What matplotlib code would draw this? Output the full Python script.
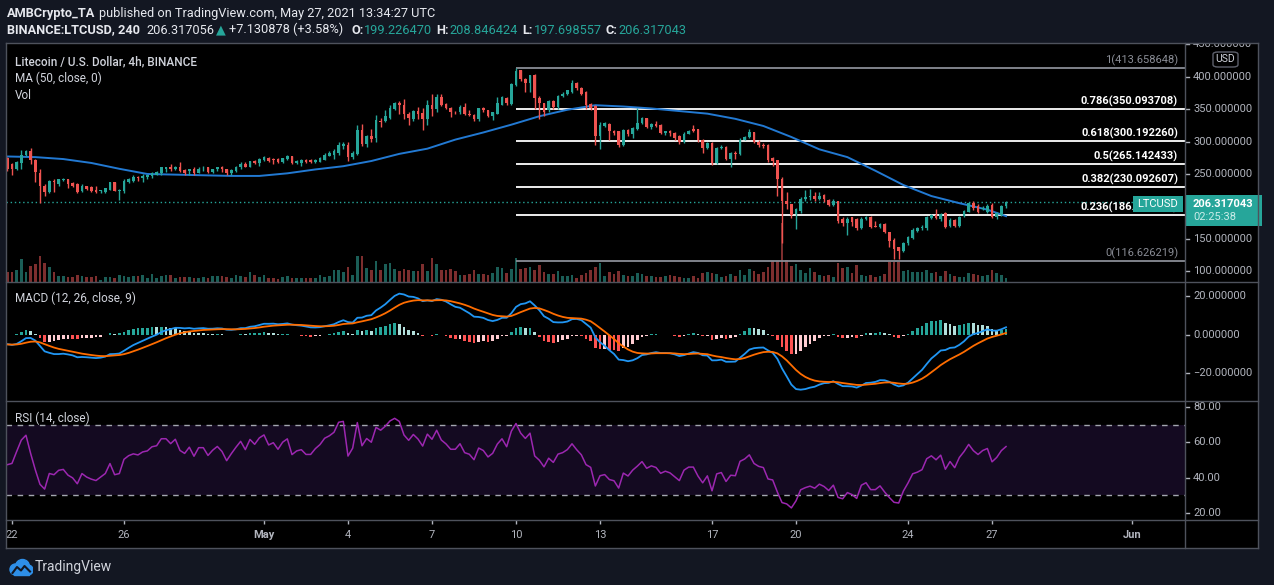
import numpy as np
import matplotlib
matplotlib.use('Agg')
import matplotlib.pyplot as plt
from matplotlib.patches import Rectangle, Circle, FancyBboxPatch
from matplotlib.lines import Line2D
from matplotlib.text import Annotation

plt.rcParams['font.family'] = ['Roboto', 'DejaVu Sans']

# ---- LTCUSD 4h candles, Apr 21 20:00 -> May 27 12:00 ----
opens = [275, 265, 257, 267, 280, 286, 272, 252, 232, 222,
         239, 234, 241, 242, 236, 234, 223, 231, 230, 226,
         224, 222, 226, 237, 224, 223, 237, 239, 246, 244,
         245, 247, 249, 252, 257, 260, 257, 261, 256, 254,
         258, 252, 257, 260, 253, 257, 260, 257, 251, 254,
         260, 266, 261, 270, 267, 271, 275, 273, 273, 268,
         273, 277, 267, 267, 272, 272, 268, 269, 272, 278,
         280, 282, 293, 295, 276, 281, 318, 296, 308, 305,
         332, 331, 337, 350, 359, 357, 342, 335, 347, 344,
         334, 356, 350, 369, 358, 352, 346, 345, 354, 343,
         341, 334, 351, 348, 340, 343, 357, 367, 358, 387,
         410, 397, 390, 402, 367, 359, 349, 362, 354, 370,
         373, 377, 391, 382, 377, 358, 355, 309, 324, 327,
         317, 316, 295, 318, 311, 319, 328, 336, 323, 327,
         326, 313, 316, 313, 308, 299, 312, 319, 319, 302,
         290, 298, 267, 290, 292, 273, 282, 281, 303, 307,
         314, 300, 295, 295, 274, 271, 243, 208, 203, 188,
         193, 211, 214, 216, 212, 217, 210, 202, 208, 181,
         174, 183, 180, 166, 181, 184, 170, 169, 173, 160,
         149, 137, 132, 143, 152, 162, 166, 166, 182, 187,
         181, 190, 170, 179, 170, 185, 192, 205, 200, 196,
         192, 202, 184, 187, 200]
closes = [257, 258, 268, 280, 286, 271, 253, 231, 222, 239,
          237, 242, 243, 235, 231, 222, 232, 227, 224, 222,
          225, 228, 237, 224, 225, 239, 243, 245, 244, 247,
          248, 252, 253, 260, 260, 257, 261, 254, 252, 257,
          251, 258, 258, 253, 257, 260, 257, 251, 256, 261,
          266, 261, 270, 267, 273, 276, 270, 272, 268, 274,
          277, 267, 270, 271, 268, 268, 272, 275, 280, 282,
          285, 295, 296, 276, 283, 318, 296, 308, 304, 333,
          330, 339, 352, 359, 356, 342, 336, 347, 342, 334,
          356, 350, 369, 357, 352, 345, 345, 354, 343, 341,
          334, 351, 348, 340, 345, 359, 368, 359, 389, 409,
          397, 390, 402, 367, 359, 346, 362, 354, 370, 373,
          379, 391, 382, 374, 357, 352, 309, 326, 328, 316,
          313, 294, 318, 311, 321, 328, 336, 323, 327, 324,
          313, 316, 313, 306, 299, 312, 316, 316, 302, 290,
          298, 267, 290, 292, 273, 282, 281, 303, 307, 314,
          300, 295, 293, 272, 270, 242, 208, 203, 187, 196,
          211, 214, 216, 211, 216, 211, 202, 208, 178, 174,
          181, 176, 166, 181, 184, 169, 169, 173, 160, 147,
          134, 132, 144, 153, 164, 166, 169, 183, 187, 182,
          188, 169, 179, 170, 184, 193, 205, 197, 192, 198,
          201, 184, 190, 200, 206.317]
highs = [276, 267, 270, 287, 287, 290, 273, 258, 234, 241,
         242, 243, 244, 243, 237, 236, 234, 232, 231, 232,
         226, 229, 238, 238, 227, 242, 244, 248, 247, 250,
         249, 253, 254, 261, 261, 265, 263, 268, 258, 258,
         260, 260, 262, 261, 258, 261, 263, 258, 257, 262,
         268, 268, 270, 272, 275, 277, 276, 275, 274, 275,
         280, 278, 271, 273, 273, 273, 273, 276, 283, 285,
         289, 299, 299, 300, 285, 325, 327, 310, 320, 341,
         337, 349, 357, 361, 362, 366, 345, 349, 354, 351,
         364, 373, 374, 374, 360, 354, 347, 356, 360, 349,
         343, 352, 353, 349, 346, 369, 370, 369, 391, 414,
         411, 398, 403, 404, 370, 360, 364, 364, 372, 376,
         380, 395, 392, 384, 378, 360, 356, 330, 330, 328,
         318, 317, 319, 320, 322, 352, 338, 337, 329, 331,
         327, 317, 318, 315, 310, 315, 318, 325, 320, 304,
         300, 300, 292, 294, 293, 284, 285, 305, 309, 320,
         315, 303, 298, 296, 276, 272, 246, 222, 204, 198,
         214, 225, 227, 222, 222, 219, 211, 212, 209, 183,
         184, 184, 182, 183, 186, 185, 178, 174, 175, 161,
         151, 138, 145, 155, 166, 168, 172, 186, 189, 196,
         190, 191, 182, 181, 186, 195, 207, 208, 203, 200,
         204, 205, 192, 202, 208.8]
lows = [254, 249, 256, 258, 277, 265, 238, 205, 216, 220,
        222, 232, 239, 229, 230, 221, 222, 226, 222, 221,
        221, 221, 225, 223, 210, 221, 236, 238, 239, 237,
        242, 244, 248, 249, 253, 255, 256, 253, 248, 249,
        249, 251, 254, 252, 251, 254, 253, 249, 248, 253,
        258, 260, 260, 265, 263, 270, 269, 266, 267, 267,
        271, 266, 266, 263, 267, 267, 267, 268, 271, 277,
        273, 280, 288, 270, 273, 279, 293, 292, 300, 300,
        322, 330, 335, 348, 342, 335, 325, 332, 335, 318,
        325, 339, 346, 355, 350, 338, 343, 343, 341, 339,
        332, 332, 346, 338, 333, 342, 356, 357, 356, 386,
        394, 377, 377, 350, 334, 340, 345, 350, 350, 368,
        371, 375, 380, 372, 350, 348, 295, 288, 322, 303,
        310, 292, 293, 309, 306, 318, 327, 321, 320, 322,
        311, 310, 308, 303, 296, 297, 311, 314, 300, 283,
        288, 264, 266, 289, 271, 261, 273, 279, 302, 305,
        297, 292, 290, 268, 262, 216, 144, 196, 182, 165,
        190, 208, 210, 208, 210, 207, 200, 201, 175, 170,
        156, 170, 164, 165, 179, 166, 168, 167, 159, 137,
        119, 119, 130, 141, 150, 160, 163, 164, 180, 180,
        178, 166, 168, 168, 169, 184, 191, 195, 190, 194,
        190, 182, 181, 186, 197.7]
# volume, relative units (bar height in the price pane)
volumes = [10, 10, 12, 23, 10, 16, 18, 26, 19, 15,
           10, 6, 6, 5, 5, 7, 6, 5, 5, 6,
           2, 5, 5, 4, 7, 6, 5, 6, 6, 7,
           4, 8, 4, 6, 7, 7, 4, 5, 5, 5,
           4, 4, 5, 4, 6, 6, 6, 5, 4, 7,
           6, 5, 10, 7, 5, 7, 4, 4, 3, 5,
           6, 4, 4, 4, 4, 4, 4, 7, 5, 6,
           12, 12, 10, 15, 7, 26, 26, 14, 12, 21,
           12, 18, 19, 13, 11, 13, 12, 11, 11, 18,
           11, 24, 18, 12, 12, 13, 11, 7, 7, 8,
           12, 8, 8, 7, 9, 15, 14, 9, 13, 24,
           13, 14, 15, 12, 17, 10, 8, 8, 11, 6,
           6, 7, 4, 7, 9, 12, 15, 19, 6, 10,
           8, 11, 7, 6, 6, 9, 8, 6, 6, 5,
           5, 6, 7, 6, 5, 4, 4, 6, 4, 9,
           10, 9, 8, 5, 6, 8, 6, 12, 7, 13,
           11, 8, 10, 15, 21, 21, 59, 22, 16, 18,
           12, 9, 14, 10, 7, 6, 7, 5, 19, 14,
           15, 9, 17, 7, 6, 7, 5, 6, 8, 20,
           20, 20, 11, 12, 10, 10, 10, 12, 9, 10,
           6, 11, 8, 6, 5, 5, 9, 8, 7, 6,
           7, 12, 9, 7, 4]

# MA(50) read once per day (candle index, value)
ma_idx = [0, 6, 12, 18, 24, 30, 36, 42, 48, 54, 60, 66, 72, 78, 84, 90, 96, 102, 108,
          114, 120, 126, 132, 138, 144, 150, 156, 162, 168, 174, 180, 186, 192, 198,
          204, 210, 214]
ma_val = [277, 276, 273, 267, 258, 250, 249, 248, 247, 247, 251, 257, 262, 270, 281, 289,
          303, 314, 326, 339, 349, 356, 354, 351, 347, 343, 335, 324, 307, 288, 276, 255,
          233, 216, 205, 195, 185]

# Fibonacci retracement drawn from the May 10 high (candle 109)
fib_start = 109
fib_ratios = ['1', '0.786', '0.618', '0.5', '0.382', '0.236', '0']
fib_levels = [413.658648, 350.093708, 300.192260, 265.142433, 230.092607, 186.725872, 116.626219]

# indicator state carried in from before the visible window
ema12_start, ema26_start, signal_start = 270.0, 274.0, -5.0
rsi_gain_start, rsi_loss_start = 2.6, 2.9

date_labels = ['22', '26', 'May', '4', '7', '10', '13', '17', '20', '24', '27', 'Jun']
date_days = [0, 4, 9, 12, 15, 18, 21, 25, 28, 32, 35, 40]   # days after Apr 22
price_ticks = [100, 150, 200, 250, 300, 350, 400, 450]
macd_ticks = [20, 0, -20]
rsi_ticks = [80, 60, 40, 20]
last_price = 206.317043

W, H = 1274, 585
BG = '#131722'
TEAL = '#26a69a'
RED = '#ef5350'
TXT = '#d1d4dc'
AXT = '#b2b5be'
LINE = '#4e525c'

fig = plt.figure(figsize=(W / 100, H / 100), dpi=100, facecolor=BG)


def pane(x0, y0, x1, y1, face='black'):
    ax = fig.add_axes([x0 / W, 1 - y1 / H, (x1 - x0) / W, (y1 - y0) / H])
    ax.set_facecolor(face)
    ax.set_xticks([])
    ax.set_yticks([])
    for s in ax.spines.values():
        s.set_visible(False)
    return ax


def kx(x):
    # pixel column -> candle index
    return (x - 7.3) / 4.667


XL = (kx(6), kx(1185))
k = np.arange(len(closes))
o = np.array(opens, float)
c = np.array(closes, float)
up = c >= o
cols = np.where(up, TEAL, RED)

# ---- price pane ----
ax_v = pane(6, 43, 1185, 282)
ax_v.bar(k, volumes, width=0.62, color=np.where(up, '#1b5e57', '#7d2e2e'), linewidth=0)
ax_v.set_xlim(XL)
ax_v.set_ylim(0, 239)

ax_p = pane(6, 43, 1185, 282, face='none')
ax_p.set_xlim(XL)
ax_p.set_ylim(83.5, 451.9)
ax_p.axhline(last_price, color=TEAL, lw=1, ls=(0, (1, 2)), zorder=1)
for r, lv in zip(fib_ratios, fib_levels):
    fc = '#8a8d96' if r in ('0', '1') else 'white'
    ax_p.hlines(lv, fib_start, XL[1], color=fc, lw=1.3, zorder=1)
    ax_p.annotate(f'{r}({lv:.6f})', xy=(kx(1178), lv), xytext=(0, 2), textcoords='offset pixels',
                  ha='right', va='bottom', color=fc, fontsize=8,
                  fontweight='normal' if r in ('0', '1') else 'bold')
ax_p.plot(ma_idx, ma_val, color='#2279d2', lw=1.4, zorder=2)
ax_p.vlines(k, lows, highs, colors=cols, lw=1, zorder=3)
ax_p.bar(k, np.maximum(np.abs(c - o), 0.8), bottom=np.minimum(o, c), width=0.62,
         color=cols, linewidth=0, zorder=4)


# ---- MACD pane ----
def ema(vals, start, n):
    a = 2 / (n + 1)
    out, e = [], start
    for v in vals:
        e = e + a * (v - e)
        out.append(e)
    return np.array(out)


macd = ema(c, ema12_start, 12) - ema(c, ema26_start, 26)
signal = ema(macd, signal_start, 9)
hist = macd - signal
prev = np.r_[hist[0], hist[:-1]]
hcol = np.where(hist >= 0, np.where(hist > prev, '#26a69a', '#b2dfdb'),
                np.where(hist > prev, '#ffcdd2', '#ff5252'))
ax_m = pane(6, 282, 1185, 401)
ax_m.set_xlim(XL)
ax_m.set_ylim(-34.3, 27.5)
ax_m.bar(k, hist, width=0.62, color=hcol, linewidth=0)
ax_m.plot(k, macd, color='#2196f3', lw=1.3)
ax_m.plot(k, signal, color='#ff6d00', lw=1.3)

# ---- RSI pane ----
gain, loss = rsi_gain_start, rsi_loss_start
rsi = [100 - 100 / (1 + gain / loss)]
for d in np.diff(c):
    gain = (gain * 13 + max(d, 0)) / 14
    loss = (loss * 13 + max(-d, 0)) / 14
    rsi.append(100 - 100 / (1 + gain / loss))
ax_r = pane(6, 401, 1185, 520)
ax_r.set_xlim(XL)
ax_r.set_ylim(15.9, 83.4)
ax_r.axhspan(30, 70, color='#140a21', lw=0)
for lv in (70, 30):
    ax_r.axhline(lv, color='#a3a6af', lw=1, ls=(0, (4, 4)))
ax_r.plot(k, rsi, color='#9c27b0', lw=1.1)

# ---- time axis ----
ax_t = pane(6, 520, 1185, 548)
ax_t.set_xlim(XL)
ax_t.set_ylim(0, 1)
for lab, d in zip(date_labels, date_days):
    kk = 1 + 6 * d
    ax_t.vlines(kk, 0.84, 1, color=AXT, lw=1)
    ax_t.text(kk, 0.45, lab, ha='center', va='center', color=AXT, fontsize=8,
              fontweight='bold' if lab in ('May', 'Jun') else 'normal')

# ---- right scales ----
sc_p = pane(1185, 43, 1258, 282)
sc_p.set_xlim(0, 1)
sc_p.set_ylim(ax_p.get_ylim())
for t in price_ticks:
    sc_p.plot([0, 0.06], [t, t], color=AXT, lw=1)
    sc_p.text(0.11, t, f'{t:.6f}', va='center', ha='left', color=AXT, fontsize=8, clip_on=True)
sc_m = pane(1185, 282, 1258, 401)
sc_m.set_xlim(0, 1)
sc_m.set_ylim(ax_m.get_ylim())
for t in macd_ticks:
    sc_m.plot([0, 0.06], [t, t], color=AXT, lw=1)
    sc_m.text(0.11, t, f'{t:.6f}'.replace('-', '\u2212'), va='center', ha='left', color=AXT,
              fontsize=8, clip_on=True)
sc_r = pane(1185, 401, 1258, 520)
sc_r.set_xlim(0, 1)
sc_r.set_ylim(ax_r.get_ylim())
for t in rsi_ticks:
    sc_r.plot([0, 0.06], [t, t], color=AXT, lw=1)
    sc_r.text(0.11, t, f'{t:.2f}', va='center', ha='left', color=AXT, fontsize=8, clip_on=True)
pane(1185, 520, 1258, 548)


# frame lines
def fline(x0, y0, x1, y1):
    fig.add_artist(Line2D([x0 / W, x1 / W], [1 - y0 / H, 1 - y1 / H], color=LINE, lw=1))


for y in (43, 282, 401, 520, 548):
    fline(6, y, 1258, y)
for x in (6, 1185, 1258):
    fline(x, 43, x, 548)

# USD badge
fig.add_artist(FancyBboxPatch((1213 / W, 1 - 67 / H), 25 / W, 15 / H,
                              boxstyle='round,pad=0,rounding_size=0.004', transform=fig.transFigure,
                              fc='black', ec='#5d606b', lw=1))
fig.text(1225.5 / W, 1 - 59.5 / H, 'USD', ha='center', va='center', color=TXT, fontsize=7.5)

# last price labels (the LTCUSD tag sits over the 0.236 level label, as on the chart)
fig.add_artist(Rectangle((1133 / W, 1 - 212 / H), 50 / W, 16 / H, transform=fig.transFigure,
                         color=TEAL, lw=0))
fig.text(1158 / W, 1 - 204 / H, 'LTCUSD', ha='center', va='center', color='white', fontsize=8)
fig.add_artist(Rectangle((1185 / W, 1 - 226 / H), 77 / W, 31 / H, transform=fig.transFigure,
                         color=TEAL, lw=0))
fig.text(1193 / W, 1 - 204 / H, f'{last_price:.6f}', ha='left', va='center', color='white',
         fontsize=8, fontweight='bold')
fig.text(1193 / W, 1 - 217.5 / H, '02:25:38', ha='left', va='center', color='#c9ece8', fontsize=8)

# pane legends
fig.text(15 / W, 1 - 65 / H, 'Litecoin / U.S. Dollar, 4h, BINANCE', color=TXT, fontsize=8.5,
         fontweight='medium', va='baseline')
fig.text(15 / W, 1 - 82 / H, 'MA (50, close, 0)', color=TXT, fontsize=8.5, va='baseline')
fig.text(15 / W, 1 - 99 / H, 'Vol', color=TXT, fontsize=8.5, va='baseline')
fig.text(15 / W, 1 - 302 / H, 'MACD (12, 26, close, 9)', color=TXT, fontsize=8.5, va='baseline')
fig.text(15 / W, 1 - 422 / H, 'RSI (14, close)', color=TXT, fontsize=8.5, va='baseline')


# header lines
def chain(parts, x, y, size=9.2):
    prev = None
    for s, color, weight, gap in parts:
        if prev is None:
            prev = fig.text(x / W, 1 - y / H, s, color=color, fontweight=weight, fontsize=size,
                            va='baseline')
        else:
            prev = fig.add_artist(Annotation(s, xy=(1, 0), xycoords=prev, xytext=(gap, 0),
                                             textcoords='offset pixels', va='bottom', ha='left',
                                             color=color, fontweight=weight, fontsize=size))
    return prev


HW = '#e6e8ee'
chain([('AMBCrypto_TA', HW, 'bold', 0),
       ('published on TradingView.com, May 27, 2021 13:34:27 UTC', HW, 'normal', 4)], 7, 17.5)
chain([('BINANCE:LTCUSD, 240', HW, 'bold', 0),
       ('206.317056', HW, 'normal', 6),
       ('\u25b2', TEAL, 'normal', 2),
       ('+7.130878 (+3.58%)', HW, 'normal', 3),
       ('O:', HW, 'bold', 8), ('199.226470', TEAL, 'normal', 1),
       ('H:', HW, 'bold', 4), ('208.846424', TEAL, 'normal', 1),
       ('L:', HW, 'bold', 4), ('197.698557', TEAL, 'normal', 1),
       ('C:', HW, 'bold', 4), ('206.317043', TEAL, 'normal', 1)], 7, 33.5)

# TradingView logo
logo = fig.add_axes([9 / W, 1 - 577 / H, 24 / W, 19 / H])
logo.set_xlim(0, 24)
logo.set_ylim(0, 19)
logo.axis('off')
for p in (Circle((6.5, 7.5), 5.5), Circle((13.5, 10.5), 7), Circle((19, 7), 5),
          Rectangle((5, 2), 15, 6)):
    p.set_color('#2e8fe8')
    logo.add_patch(p)
logo.plot([3.5, 8, 12, 15.5, 21], [4, 10, 6.5, 11, 5.5], color=BG, lw=1.5)
fig.text(35 / W, 1 - 567 / H, 'TradingView', color=TXT, fontsize=10, va='center')

fig.savefig('out.png', dpi=100, facecolor=BG)
